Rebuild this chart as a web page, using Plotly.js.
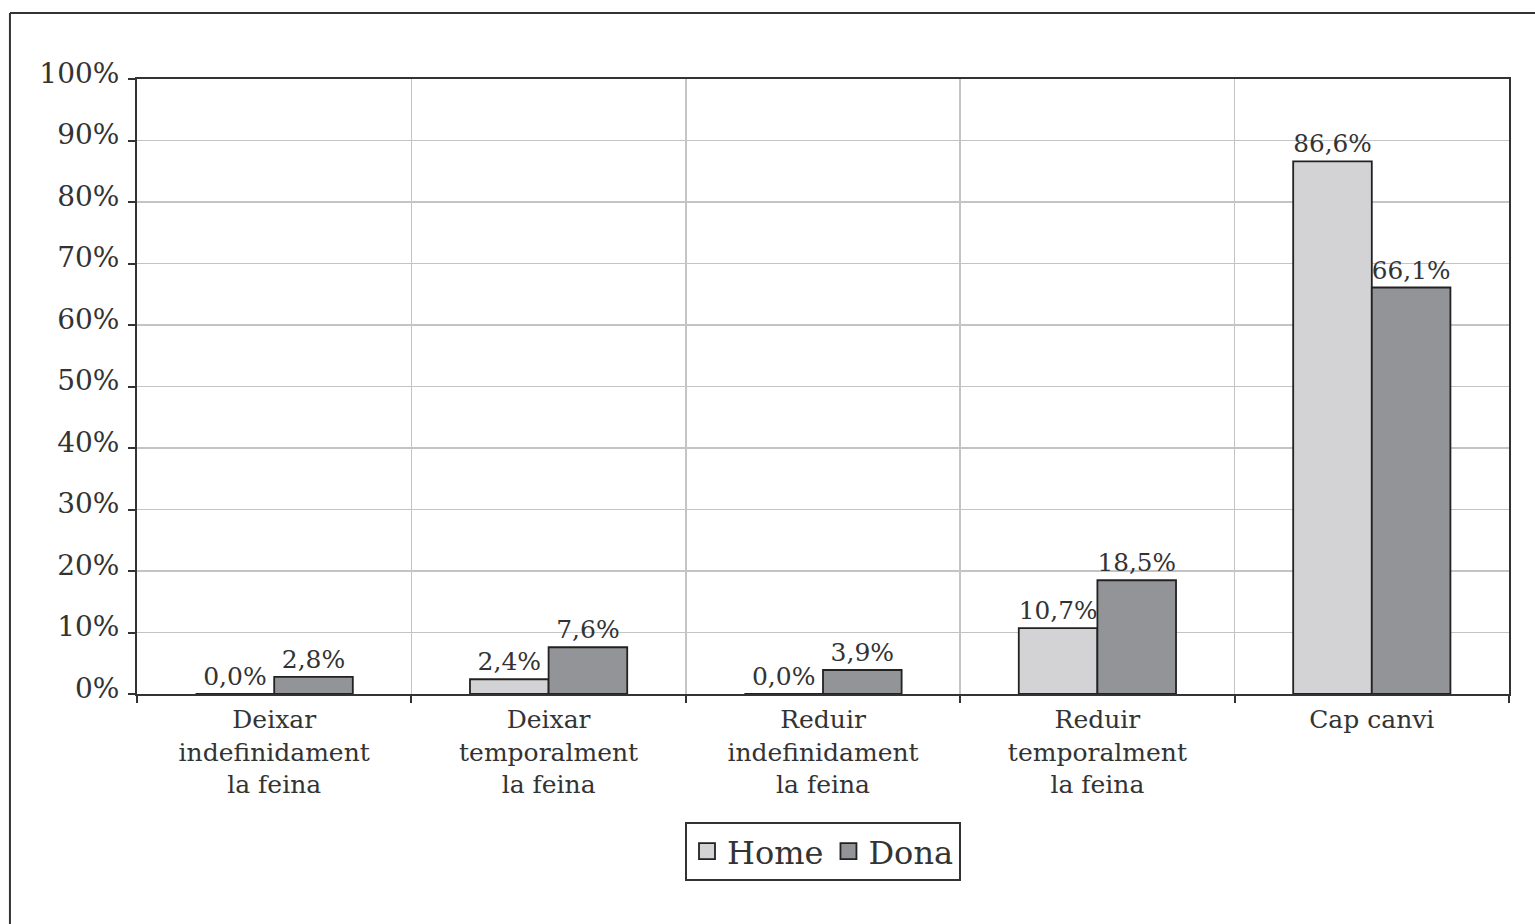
<!DOCTYPE html>
<html>
<head>
<meta charset="utf-8">
<script src="https://cdn.plot.ly/plotly-3.0.1.min.js"></script>
<style>
html,body{margin:0;padding:0;background:#fff;}
#chart{width:1535px;height:924px;}
</style>
</head>
<body>
<div id="chart"></div>
<script>
var categories = [
  "Deixar<br>indefinidament<br>la feina",
  "Deixar<br>temporalment<br>la feina",
  "Reduir<br>indefinidament<br>la feina",
  "Reduir<br>temporalment<br>la feina",
  "Cap canvi"
];
var homeValues = [0.0, 2.4, 0.0, 10.7, 86.6];
var donaValues = [2.8, 7.6, 3.9, 18.5, 66.1];
var seriesNames = ["Home", "Dona"];

var FONT = "DejaVu Serif, Liberation Serif, serif";
var TXT = "#333333";
var homeColor = "#d3d3d5";
var donaColor = "#939497";
var edge = "#222222";

var traces = [
  {
    type: "bar", x: categories, y: homeValues, name: seriesNames[0],
    marker: {color: homeColor, line: {color: edge, width: 1.8}},
    texttemplate: "%{y:.1f}%", textposition: "outside", cliponaxis: false,
    textfont: {family: FONT, size: 25, color: TXT},
    showlegend: false, hoverinfo: "skip"
  },
  {
    type: "bar", x: categories, y: donaValues, name: seriesNames[1],
    marker: {color: donaColor, line: {color: edge, width: 1.8}},
    texttemplate: "%{y:.1f}%", textposition: "outside", cliponaxis: false,
    textfont: {family: FONT, size: 25, color: TXT},
    showlegend: false, hoverinfo: "skip"
  },
  {
    type: "scatter", mode: "markers", x: [categories[0]], y: [null], name: seriesNames[0],
    marker: {symbol: "square", size: 16, color: homeColor, line: {color: edge, width: 1.8}},
    showlegend: true, hoverinfo: "skip"
  },
  {
    type: "scatter", mode: "markers", x: [categories[0]], y: [null], name: seriesNames[1],
    marker: {symbol: "square", size: 16, color: donaColor, line: {color: edge, width: 1.8}},
    showlegend: true, hoverinfo: "skip"
  }
];

var layout = {
  width: 1535, height: 924,
  margin: {l: 137, r: 26, t: 79, b: 230},
  paper_bgcolor: "#ffffff", plot_bgcolor: "#ffffff",
  separators: ",.",
  barmode: "group", bargap: 0.427, bargroupgap: 0,
  font: {family: FONT, color: TXT},
  xaxis: {
    type: "category",
    tickson: "boundaries",
    ticks: "outside", ticklen: 7, tickwidth: 2, tickcolor: "#333",
    showline: true, linecolor: "#333", linewidth: 2, mirror: true,
    showgrid: true, gridcolor: "#c4c4c4", gridwidth: 1.5,
    tickfont: {family: FONT, size: 25, color: TXT},
    ticklabelstandoff: 2,
    fixedrange: true
  },
  yaxis: {
    range: [0, 100], dtick: 10, ticksuffix: "%",
    ticks: "outside", ticklen: 7, tickwidth: 2, tickcolor: "#333",
    showline: true, linecolor: "#333", linewidth: 2, mirror: true,
    showgrid: true, gridcolor: "#c4c4c4", gridwidth: 1.5,
    zeroline: false,
    tickfont: {family: FONT, size: 28, color: TXT},
    ticklabelshift: -6, ticklabelstandoff: 3,
    fixedrange: true
  },
  showlegend: true,
  legend: {
    orientation: "h", x: 0.5, xanchor: "center", y: -0.208, yanchor: "top",
    bordercolor: "#333", borderwidth: 2, bgcolor: "#fff",
    font: {family: FONT, size: 32, color: TXT},
    itemwidth: 30, tracegroupgap: 0
  },
  shapes: [
    {type: "line", xref: "paper", yref: "paper", x0: -0.0926, x1: -0.0926, y0: 1.1073, y1: -0.45,
     line: {color: "#333", width: 2}},
    {type: "line", xref: "paper", yref: "paper", x0: -0.0926, x1: 1.05, y0: 1.1073, y1: 1.1073,
     line: {color: "#333", width: 2}}
  ]
};

Plotly.newPlot("chart", traces, layout, {displayModeBar: false, staticPlot: true});
</script>
</body>
</html>
